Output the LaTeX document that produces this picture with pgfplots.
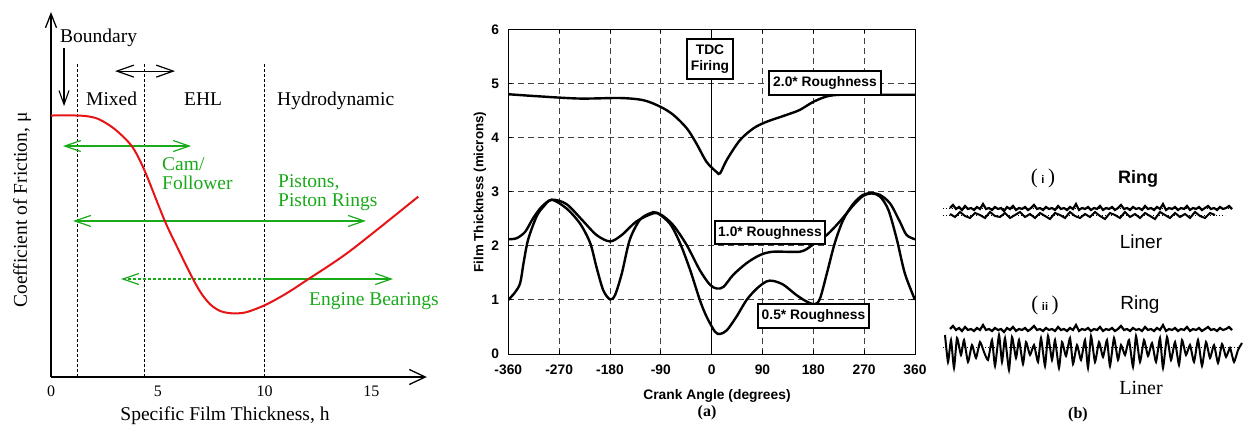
\documentclass[border=0pt]{standalone}
\usepackage{pgfplots}
\pgfplotsset{compat=1.18}
\usepackage{pgfplotstable}
\usepackage{fontspec}
\setmainfont{Liberation Serif}
\newfontfamily\helv{Liberation Sans}
\usetikzlibrary{arrows.meta}
\definecolor{cred}{RGB}{230,20,20}
\definecolor{cgreen}{RGB}{25,170,25}

% ---- panel 1: friction curve (x = specific film thickness, y = arbitrary) ----
\pgfplotstableread{
x y
0 12.25
1.2 12.25
1.8 12.2
2.3 12.05
3.0 11.6
3.78 10.82
4.37 9.7
5.33 7.31
6.0 5.9
6.65 4.59
7.05 3.9
7.46 3.4
7.9 3.1
8.3 3.0
8.7 2.98
9.2 3.05
10.05 3.38
11 3.9
12.0 4.55
14 5.9
17.2 8.45
}\friction

% ---- panel 2: film thickness vs crank angle ----
\pgfplotstableread{
x y
-360 4.80
-304 4.76
-233 4.72
-162 4.73
-121 4.69
-91 4.57
-68 4.42
-44 4.17
-27 3.89
-9 3.55
9 3.36
15 3.34
27 3.59
50 3.95
74 4.17
97 4.29
133 4.42
156 4.51
180 4.66
204 4.76
227 4.79
270 4.79
360 4.79
}\rtwo

\pgfplotstableread{
x y
-360 2.12
-345 2.14
-330 2.26
-316 2.51
-301 2.72
-283 2.85
-257 2.77
-227 2.45
-204 2.20
-180 2.08
-159 2.20
-133 2.45
-103 2.60
-89 2.57
-68 2.38
-44 2.01
-21 1.55
-3 1.28
9 1.21
21 1.24
38 1.46
62 1.68
86 1.83
109 1.89
156 1.89
174 1.98
186 2.08
204 2.20
227 2.45
251 2.75
268 2.92
283 2.97
298 2.94
316 2.78
333 2.45
345 2.20
360 2.12
}\rone

\pgfplotstableread{
x y
-360 1.00
-348 1.14
-339 1.31
-333 1.68
-325 2.11
-310 2.54
-298 2.72
-283 2.85
-257 2.69
-233 2.41
-215 2.05
-204 1.61
-192 1.18
-180 1.01
-171 1.09
-159 1.49
-145 2.11
-127 2.48
-109 2.60
-97 2.61
-74 2.41
-56 2.05
-38 1.55
-21 1.00
-9 0.69
6 0.41
15 0.37
27 0.44
44 0.69
62 1.00
80 1.21
97 1.34
109 1.35
127 1.28
150 1.09
168 0.97
183 0.92
192 1.03
204 1.49
218 2.05
233 2.48
251 2.78
268 2.94
283 2.97
298 2.91
313 2.66
328 2.11
342 1.49
360 1.00
}\rhalf

% ---- panel 3: surface profiles (pixel coordinates) ----
\pgfplotstableread{
x y
950 208
953 205
956 209
959 207
962 210
965 206
968 209
971 208
974 210
977 207
980 209
983 204
986 209
989 208
992 210
995 207
998 209
1001 208
1004 211
1007 207
1010 209
1013 206
1016 210
1019 208
1022 209
1025 207
1028 210
1031 208
1034 205
1037 209
1040 208
1043 210
1046 207
1049 209
1052 208
1055 210
1058 206
1061 209
1064 208
1067 210
1070 207
1073 209
1076 204
1079 210
1082 208
1085 209
1088 207
1091 210
1094 208
1097 209
1100 206
1103 210
1106 208
1109 209
1112 207
1115 210
1118 208
1121 205
1124 209
1127 208
1130 210
1133 207
1136 209
1139 208
1142 210
1145 206
1148 209
1151 208
1154 210
1157 207
1160 209
1163 204
1166 210
1169 208
1172 209
1175 207
1178 210
1181 208
1184 209
1187 206
1190 210
1193 208
1196 209
1199 207
1202 210
1205 208
1208 206
1211 209
1214 208
1217 210
1220 207
1223 209
1226 208
1229 206
1232 209
}\ringI

\pgfplotstableread{
x y
950 214
955 217
960 212
965 216
970 218
975 213
980 215
985 218
990 212
995 216
1000 217
1005 213
1010 218
1015 215
1020 212
1025 217
1030 214
1035 218
1040 213
1045 216
1050 219
1055 213
1060 215
1065 218
1070 212
1075 216
1080 218
1085 214
1090 217
1095 212
1100 216
1105 219
1110 213
1115 215
1120 218
1125 212
1130 217
1135 214
1140 218
1145 213
1150 216
1155 219
1160 212
1165 215
1170 218
1175 213
1180 217
1185 214
1190 218
1195 212
1200 216
1205 218
1210 213
1215 215
}\linerI

\pgfplotstableread{
x y
945 335
948 362
951 340
954 368
957 338
961 355
964 340
968 362
972 345
976 358
980 342
984 352
988 360
992 340
995 366
999 335
1002 362
1005 338
1009 370
1012 337
1016 358
1019 340
1023 364
1026 342
1030 355
1034 345
1038 362
1041 338
1045 366
1048 336
1052 360
1055 340
1059 368
1062 342
1066 356
1070 338
1073 364
1077 345
1081 360
1085 340
1088 368
1091 336
1095 362
1099 342
1103 357
1107 340
1110 366
1114 338
1118 360
1121 345
1125 355
1129 340
1133 367
1136 336
1140 362
1144 340
1148 356
1152 343
1156 362
1160 338
1163 368
1167 337
1171 360
1175 342
1179 365
1182 340
1186 355
1190 345
1194 362
1198 340
1202 366
1206 342
1210 358
1214 345
1218 363
1222 344
1226 357
1230 348
1234 362
1238 350
1242 343
}\linerII

\newcommand\fserif{\fontsize{19.5}{20}\selectfont}
\newcommand\fhelv{\helv\bfseries\fontsize{13.8}{16}\selectfont}

\begin{document}
\begin{tikzpicture}[x=1pt,y=1pt]
\useasboundingbox (0,0) rectangle (1243,427);

% ================= Panel 1 =================
\begin{axis}[at={(51pt,50pt)}, anchor=south west, scale only axis,
  width=375.8pt, height=365pt, xmin=0, xmax=17.6, ymin=0, ymax=17.1,
  axis x line=bottom, axis y line=left, clip=false,
  x axis line style={line width=1.3pt, -{Straight Barb[length=16pt,width=15pt]}},
  y axis line style={line width=1.3pt, -{Straight Barb[length=14pt,width=11pt]}},
  xtick={0,5,10,15}, xticklabels={0,5,10,15}, ytick=\empty,
  major tick length=0pt,
  xticklabel style={font=\fontsize{16}{16}\selectfont, anchor=north, inner sep=0pt, yshift=-9pt}]
  \draw[line width=1pt, dash pattern=on 3pt off 2pt] (1.22,0) -- (1.22,14.75);
  \draw[line width=1pt, dash pattern=on 3pt off 2pt] (4.37,0) -- (4.37,14.75);
  \draw[line width=1.2pt, dash pattern=on 3pt off 2pt] (10,0) -- (10,14.75);
  % black annotation arrows
  \draw[line width=1.1pt, -{Straight Barb[length=14pt,width=10pt]}] (0.61,15.41) -- (0.61,12.69);
  \draw[line width=1.2pt, {Straight Barb[length=17pt,width=12pt]}-{Straight Barb[length=17pt,width=12pt]}] (3.0,14.33) -- (5.81,14.33);
  % green range arrows
  \draw[cgreen, line width=1.2pt, {Straight Barb[length=16pt,width=11pt]}-{Straight Barb[length=16pt,width=11pt]}] (0.56,10.82) -- (6.56,10.82);
  \draw[cgreen, line width=1.2pt, {Straight Barb[length=16pt,width=11pt]}-{Straight Barb[length=16pt,width=11pt]}] (1.03,7.31) -- (14.75,7.31);
  \draw[cgreen, line width=1.2pt, dash pattern=on 3pt off 2pt, {Straight Barb[length=16pt,width=11pt]}-] (3.28,4.59) -- (10,4.59);
  \draw[cgreen, line width=1.2pt, -{Straight Barb[length=16pt,width=11pt]}] (10,4.59) -- (16.02,4.59);
  \addplot[cred, line width=2pt, smooth, tension=0.5] table {\friction};
\end{axis}

\node[anchor=base west, inner sep=0pt, font=\fserif] at (60,384) {Boundary};
\node[anchor=base west, inner sep=0pt, font=\fserif] at (86,321) {Mixed};
\node[anchor=base west, inner sep=0pt, font=\fserif] at (184,321) {EHL};
\node[anchor=base west, inner sep=0pt, font=\fserif] at (277,321) {Hydrodynamic};
\node[anchor=base west, inner sep=0pt, font=\fserif, text=cgreen] at (162,256) {Cam/};
\node[anchor=base west, inner sep=0pt, font=\fserif, text=cgreen] at (162,237) {Follower};
\node[anchor=base west, inner sep=0pt, font=\fserif, text=cgreen] at (278,239) {Pistons,};
\node[anchor=base west, inner sep=0pt, font=\fserif, text=cgreen] at (278,220) {Piston Rings};
\node[anchor=base west, inner sep=0pt, font=\fserif, text=cgreen] at (309,121) {Engine Bearings};
\node[anchor=base, inner sep=0pt, font=\fserif] at (225,6) {Specific Film Thickness, h};
\node[rotate=90, inner sep=0pt, font=\fserif] at (22,217) {Coefficient of Friction, μ};

% ================= Panel 2 =================
\begin{axis}[at={(508.3pt,73pt)}, anchor=south west, scale only axis,
  width=406.7pt, height=324.7pt, xmin=-360, xmax=360, ymin=0, ymax=6,
  xtick={-360,-270,-180,-90,0,90,180,270,360},
  xticklabels={-360,-270,-180,-90,0,90,180,270,360},
  ytick={0,1,2,3,4,5,6}, yticklabels={0,1,2,3,4,5,6},
  grid=major, grid style={line width=0.9pt, dash pattern=on 6pt off 4pt, black!75},
  axis line style={line width=0.9pt},
  tick style={line width=0.8pt, black}, major tick length=4pt, tick align=inside,
  ticklabel style={font=\helv\bfseries\fontsize{13.8}{14}\selectfont, inner sep=0pt},
  xticklabel style={anchor=north, yshift=-11pt},
  yticklabel style={anchor=east, xshift=-9pt}]
  \draw[line width=0.9pt] (0,0) -- (0,6);
  \addplot[black, line width=2.4pt, smooth] table {\rtwo};
  \addplot[black, line width=2.4pt, smooth] table {\rone};
  \addplot[black, line width=2.4pt, smooth] table {\rhalf};
\end{axis}

\node[draw, line width=2.4pt, fill=white, align=center, inner sep=0pt,
  minimum width=46pt, minimum height=40pt, font=\fhelv] at (710,368) {TDC\\Firing};
\node[draw, line width=2.4pt, fill=white, inner sep=0pt,
  minimum width=112pt, minimum height=24pt, font=\fhelv] at (825,344) {2.0* Roughness};
\node[draw, line width=2.4pt, fill=white, inner sep=0pt,
  minimum width=110pt, minimum height=23pt, font=\fhelv] at (770,194.5) {1.0* Roughness};
\node[draw, line width=2.4pt, fill=white, inner sep=0pt,
  minimum width=111pt, minimum height=24pt, font=\fhelv] at (813.5,111) {0.5* Roughness};
\node[font=\helv\bfseries\fontsize{13.8}{14}\selectfont] at (717,31.5) {Crank Angle (degrees)};
\node[rotate=90, font=\helv\bfseries\fontsize{13.3}{14}\selectfont] at (480,235) {Film Thickness (microns)};
\node[font=\bfseries\fontsize{16}{16}\selectfont] at (707,14) {(a)};

% ================= Panel 3 =================
\begin{axis}[at={(930pt,0pt)}, anchor=south west, scale only axis, hide axis,
  width=313pt, height=427pt, xmin=930, xmax=1243, ymin=0, ymax=427,
  y dir=reverse, clip=false]
  \draw[line width=1pt, dotted] (943,209) -- (1232,209);
  \draw[line width=1pt, dotted] (943,216) -- (1225,216);
  \draw[line width=1pt, dotted] (943,348) -- (1238,348);
  \addplot[black, line width=2pt] table {\linerI};
  \addplot[black, line width=2.2pt] table {\ringI};
  \addplot[black, line width=2pt, smooth, tension=0.3] table {\linerII};
  \addplot[black, line width=2.2pt] table[x=x, y expr=\thisrow{y}+121] {\ringI};
\end{axis}

\node[font=\fontsize{21}{21}\selectfont] at (1043,249) {(\,{\helv\bfseries\fontsize{11}{11}\selectfont i}\,)};
\node[font=\helv\bfseries\fontsize{18}{18}\selectfont] at (1138,248) {Ring};
\node[font=\helv\fontsize{19}{19}\selectfont] at (1141,185) {Liner};
\node[font=\fontsize{21}{21}\selectfont] at (1045,122) {(\,{\helv\bfseries\fontsize{11}{11}\selectfont ii}\,)};
\node[font=\helv\fontsize{19}{19}\selectfont] at (1140,122) {Ring};
\node[font=\fontsize{20}{20}\selectfont] at (1141,39) {Liner};
\node[font=\bfseries\fontsize{16}{16}\selectfont] at (1078,12) {(b)};
\end{tikzpicture}
\end{document}
